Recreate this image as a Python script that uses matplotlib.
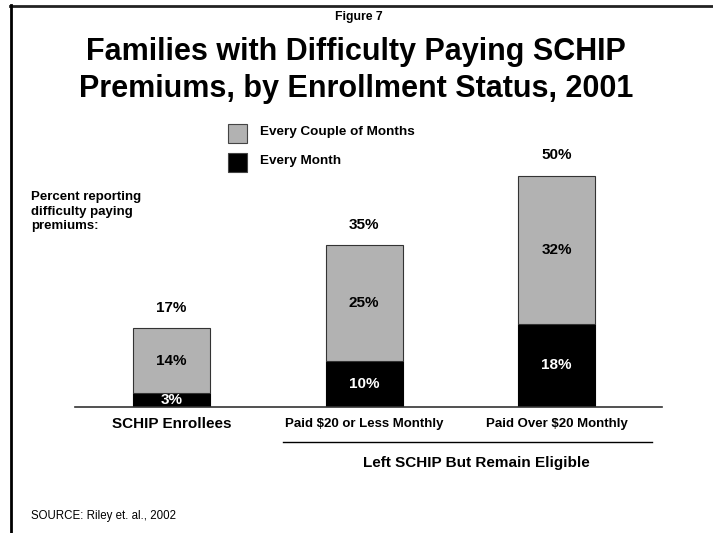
import matplotlib
matplotlib.use('Agg')
import matplotlib.pyplot as plt
from matplotlib.lines import Line2D
from matplotlib.patches import Rectangle

# Percent of families reporting difficulty paying premiums
groups = ['SCHIP Enrollees', 'Paid $20 or Less Monthly', 'Paid Over $20 Monthly']
every_month = [3, 10, 18]
couple_months = [14, 25, 32]
totals = [17, 35, 50]

W, H = 713, 533
plt.rcParams['font.family'] = ['Liberation Sans', 'DejaVu Sans']


def fx(px):
    return px / W


def fy(py):
    return 1 - py / H


fig = plt.figure(figsize=(W / 100, H / 100), dpi=100)

# frame along the top and left edge
fig.add_artist(Line2D([fx(10), 1], [fy(5.5), fy(5.5)], color='#222222', lw=2))
fig.add_artist(Line2D([fx(10.5), fx(10.5)], [fy(5), 0], color='black', lw=2))

# plotting area: baseline at 407px, 4.62px per percentage point
base_px, top_px = 407, 107
x_left, x_right = 75, 662
ax = fig.add_axes([fx(x_left), fy(base_px), (x_right - x_left) / W, (base_px - top_px) / H])
unit = 192.5
c0 = 171.5
ax.set_xlim((x_left - c0) / unit, (x_right - c0) / unit)
ax.set_ylim(0, (base_px - top_px) / 4.62)
for s in ['top', 'right', 'left']:
    ax.spines[s].set_visible(False)
ax.spines['bottom'].set_color('#333333')
ax.spines['bottom'].set_linewidth(1.2)
ax.set_xticks([])
ax.set_yticks([])

xs = range(len(groups))
bw = 0.4
ax.bar(xs, every_month, bw, color='black', edgecolor='black', linewidth=0.8)
ax.bar(xs, couple_months, bw, bottom=every_month, color='#b2b2b2',
       edgecolor='#333333', linewidth=0.8)

for i in xs:
    ax.text(i, totals[i] + 4.5, f'{totals[i]}%', ha='center', va='center',
            fontsize=11, fontweight='bold')
    ax.text(i, every_month[i] + couple_months[i] / 2, f'{couple_months[i]}%',
            ha='center', va='center', fontsize=11, fontweight='bold')
    ax.text(i, every_month[i] / 2, f'{every_month[i]}%', ha='center', va='center',
            fontsize=11, fontweight='bold', color='white')

# category labels below the baseline
label_sizes = [11, 9.5, 9.5]
for i in xs:
    fig.text(fx(c0 + i * unit), fy(424), groups[i], ha='center', va='center',
             fontsize=label_sizes[i], fontweight='bold')

# bracket for the two groups that left SCHIP
fig.add_artist(Line2D([fx(283), fx(652)], [fy(442), fy(442)], color='black', lw=1))
fig.text(fx(476), fy(463), 'Left SCHIP But Remain Eligible', ha='center', va='center',
         fontsize=11, fontweight='bold')

# titles
fig.text(fx(359), fy(17), 'Figure 7', ha='center', va='center', fontsize=8.8, fontweight='bold')
fig.text(fx(356), fy(52), 'Families with Difficulty Paying SCHIP', ha='center', va='center',
         fontsize=22, fontweight='bold')
fig.text(fx(356), fy(89), 'Premiums, by Enrollment Status, 2001', ha='center', va='center',
         fontsize=22, fontweight='bold')

# legend
for py, col, lab in [(133, '#b2b2b2', 'Every Couple of Months'), (162, 'black', 'Every Month')]:
    fig.add_artist(Rectangle((fx(228), fy(py + 9.5)), 19 / W, 19 / H, facecolor=col,
                             edgecolor='#444444', linewidth=0.8))
    fig.text(fx(260), fy(py - 1), lab, ha='left', va='center', fontsize=9.7, fontweight='bold')

fig.text(fx(31), fy(191), 'Percent reporting\ndifficulty paying\npremiums:', ha='left', va='top',
         fontsize=9.5, fontweight='bold', linespacing=1.3)

fig.text(fx(31), fy(516), 'SOURCE: Riley et. al., 2002', ha='left', va='center', fontsize=8.3)

fig.savefig('out.png', dpi=100)
